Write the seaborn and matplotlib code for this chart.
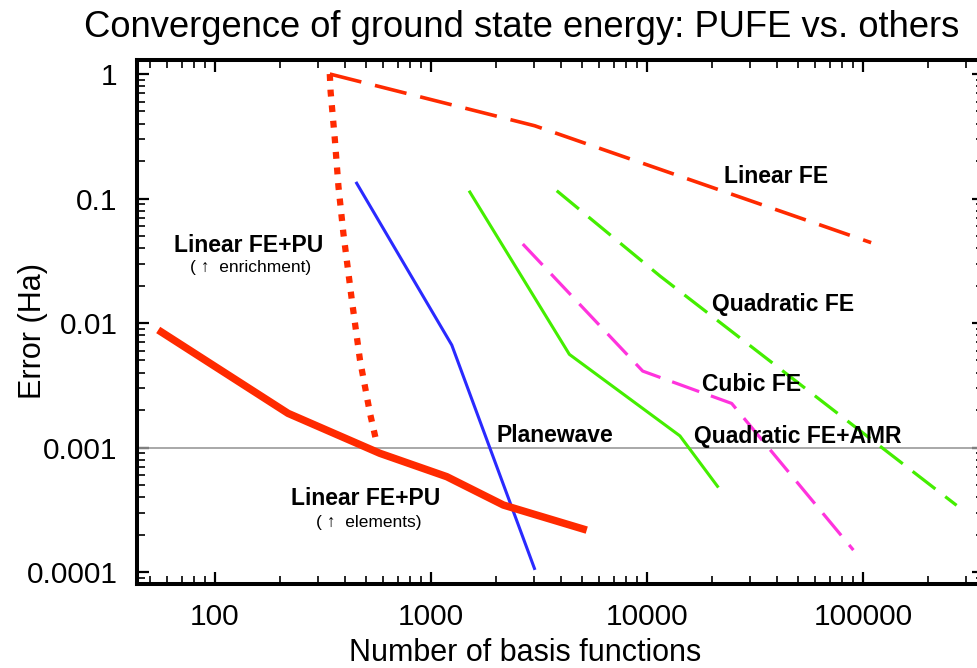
import matplotlib
matplotlib.use("Agg")
import matplotlib.pyplot as plt
import seaborn as sns
from matplotlib.ticker import LogLocator, NullFormatter

# Convergence data: number of basis functions vs. ground state energy error (Ha)
lin_pu_elem_n = [54.6, 218, 580, 1183, 2163, 5260]
lin_pu_elem_err = [0.00879, 0.00188, 0.000898, 0.000583, 0.000345, 0.000217]

lin_pu_enr_n = [340, 343, 359, 373, 393, 430, 469, 522, 561]
lin_pu_enr_err = [1.0, 0.72, 0.295, 0.124, 0.0525, 0.0153, 0.00505, 0.00188, 0.00108]

lin_fe_n = [340, 3020, 109000]
lin_fe_err = [1.0, 0.384, 0.0442]

quad_fe_n = [3820, 11500, 271000]
quad_fe_err = [0.1155, 0.0238, 0.000343]

quad_amr_n = [1500, 4370, 14200, 21400]
quad_amr_err = [0.1155, 0.0056, 0.00124, 0.000477]

cubic_n = [2660, 9550, 24650, 90200]
cubic_err = [0.0431, 0.00411, 0.00226, 0.000150]

pw_n = [449, 1248, 3029]
pw_err = [0.136, 0.00665, 0.000104]

x_ticks = [100, 1000, 10000, 100000]
x_tick_labels = ["100", "1000", "10000", "100000"]
y_ticks = [1, 0.1, 0.01, 0.001, 0.0001]
y_tick_labels = ["1", "0.1", "0.01", "0.001", "0.0001"]

RED = "#ff2a00"
GREEN = "#44ee00"
BLUE = "#2a2aff"
MAGENTA = "#ff33dd"

sns.set_style("ticks")
plt.rcParams["font.family"] = ["Liberation Sans", "DejaVu Sans"]
plt.rcParams["text.color"] = "black"
plt.rcParams["axes.labelcolor"] = "black"
plt.rcParams["xtick.color"] = "black"
plt.rcParams["ytick.color"] = "black"

fig = plt.figure(figsize=(9.78, 6.68), dpi=100)
ax = fig.add_axes([137 / 978, 84 / 668, 847 / 978, 524 / 668])
ax.set_xscale("log")
ax.set_yscale("log")

dash = (0, (9, 3.9))
series = [
    (lin_fe_n, lin_fe_err, RED, 2.6, dash, 3),
    (quad_fe_n, quad_fe_err, GREEN, 2.3, dash, 3),
    (cubic_n, cubic_err, MAGENTA, 2.3, dash, 3),
    (quad_amr_n, quad_amr_err, GREEN, 2.2, "-", 3),
    (pw_n, pw_err, BLUE, 2.2, "-", 3),
    (lin_pu_enr_n, lin_pu_enr_err, RED, 4.5, (0, (1.1, 1.4)), 4),
    (lin_pu_elem_n, lin_pu_elem_err, RED, 5.4, "-", 4),
]
for n, err, color, lw, ls, z in series:
    sns.lineplot(x=n, y=err, ax=ax, color=color, linewidth=lw, linestyle=ls,
                 estimator=None, sort=False, solid_capstyle="butt",
                 dash_capstyle="butt", zorder=z)

ax.axhline(1e-3, color="#999999", linewidth=1.2, zorder=1)

ax.set_xlim(43.55, 363000)
ax.set_ylim(8.01e-5, 1.296)

ax.set_xticks(x_ticks, labels=x_tick_labels)
ax.set_yticks(y_ticks, labels=y_tick_labels)
for axis in (ax.xaxis, ax.yaxis):
    axis.set_minor_locator(LogLocator(base=10, subs=range(2, 10), numticks=30))
    axis.set_minor_formatter(NullFormatter())

ax.tick_params(which="both", direction="in", top=True, right=True, color="black",
               labelcolor="black")
ax.tick_params(which="major", length=8.6, width=1.6, labelsize=21.5, pad=14)
ax.tick_params(which="minor", length=6.0, width=1.2)
for s in ax.spines.values():
    s.set_linewidth(2.9)
    s.set_color("black")

# Curve labels
bold = dict(fontsize=16.5, fontweight="bold", ha="center", va="baseline", color="black")
small = dict(fontsize=12.5, ha="center", va="baseline", color="black")
ax.text(39400, 0.1344, "Linear FE", **bold)
ax.text(42700, 0.01248, "Quadratic FE", **bold)
ax.text(30600, 0.00287, "Cubic FE", **bold)
ax.text(49800, 0.001087, "Quadratic FE+AMR", **bold)
ax.text(3750, 0.001107, "Planewave", **bold)
ax.text(143.7, 0.0375, "Linear FE+PU", **bold)
ax.text(146.8, 0.0257, "( \u2191  enrichment)", **small)
ax.text(498, 0.000345, "Linear FE+PU", **bold)
ax.text(516, 0.00023, "( \u2191  elements)", **small)

fig.text(521.5 / 978, 1 - 37 / 668, "Convergence of ground state energy: PUFE vs. others",
         ha="center", va="baseline", fontsize=26.2, color="black")
fig.text(525.5 / 978, 1 - 661 / 668, "Number of basis functions",
         ha="center", va="baseline", fontsize=22, color="black")
fig.text(41 / 978, 1 - 331 / 668, "Error (Ha)", rotation=90, rotation_mode="anchor",
         ha="center", va="baseline", fontsize=22, color="black")

fig.savefig("out.png", dpi=100)
